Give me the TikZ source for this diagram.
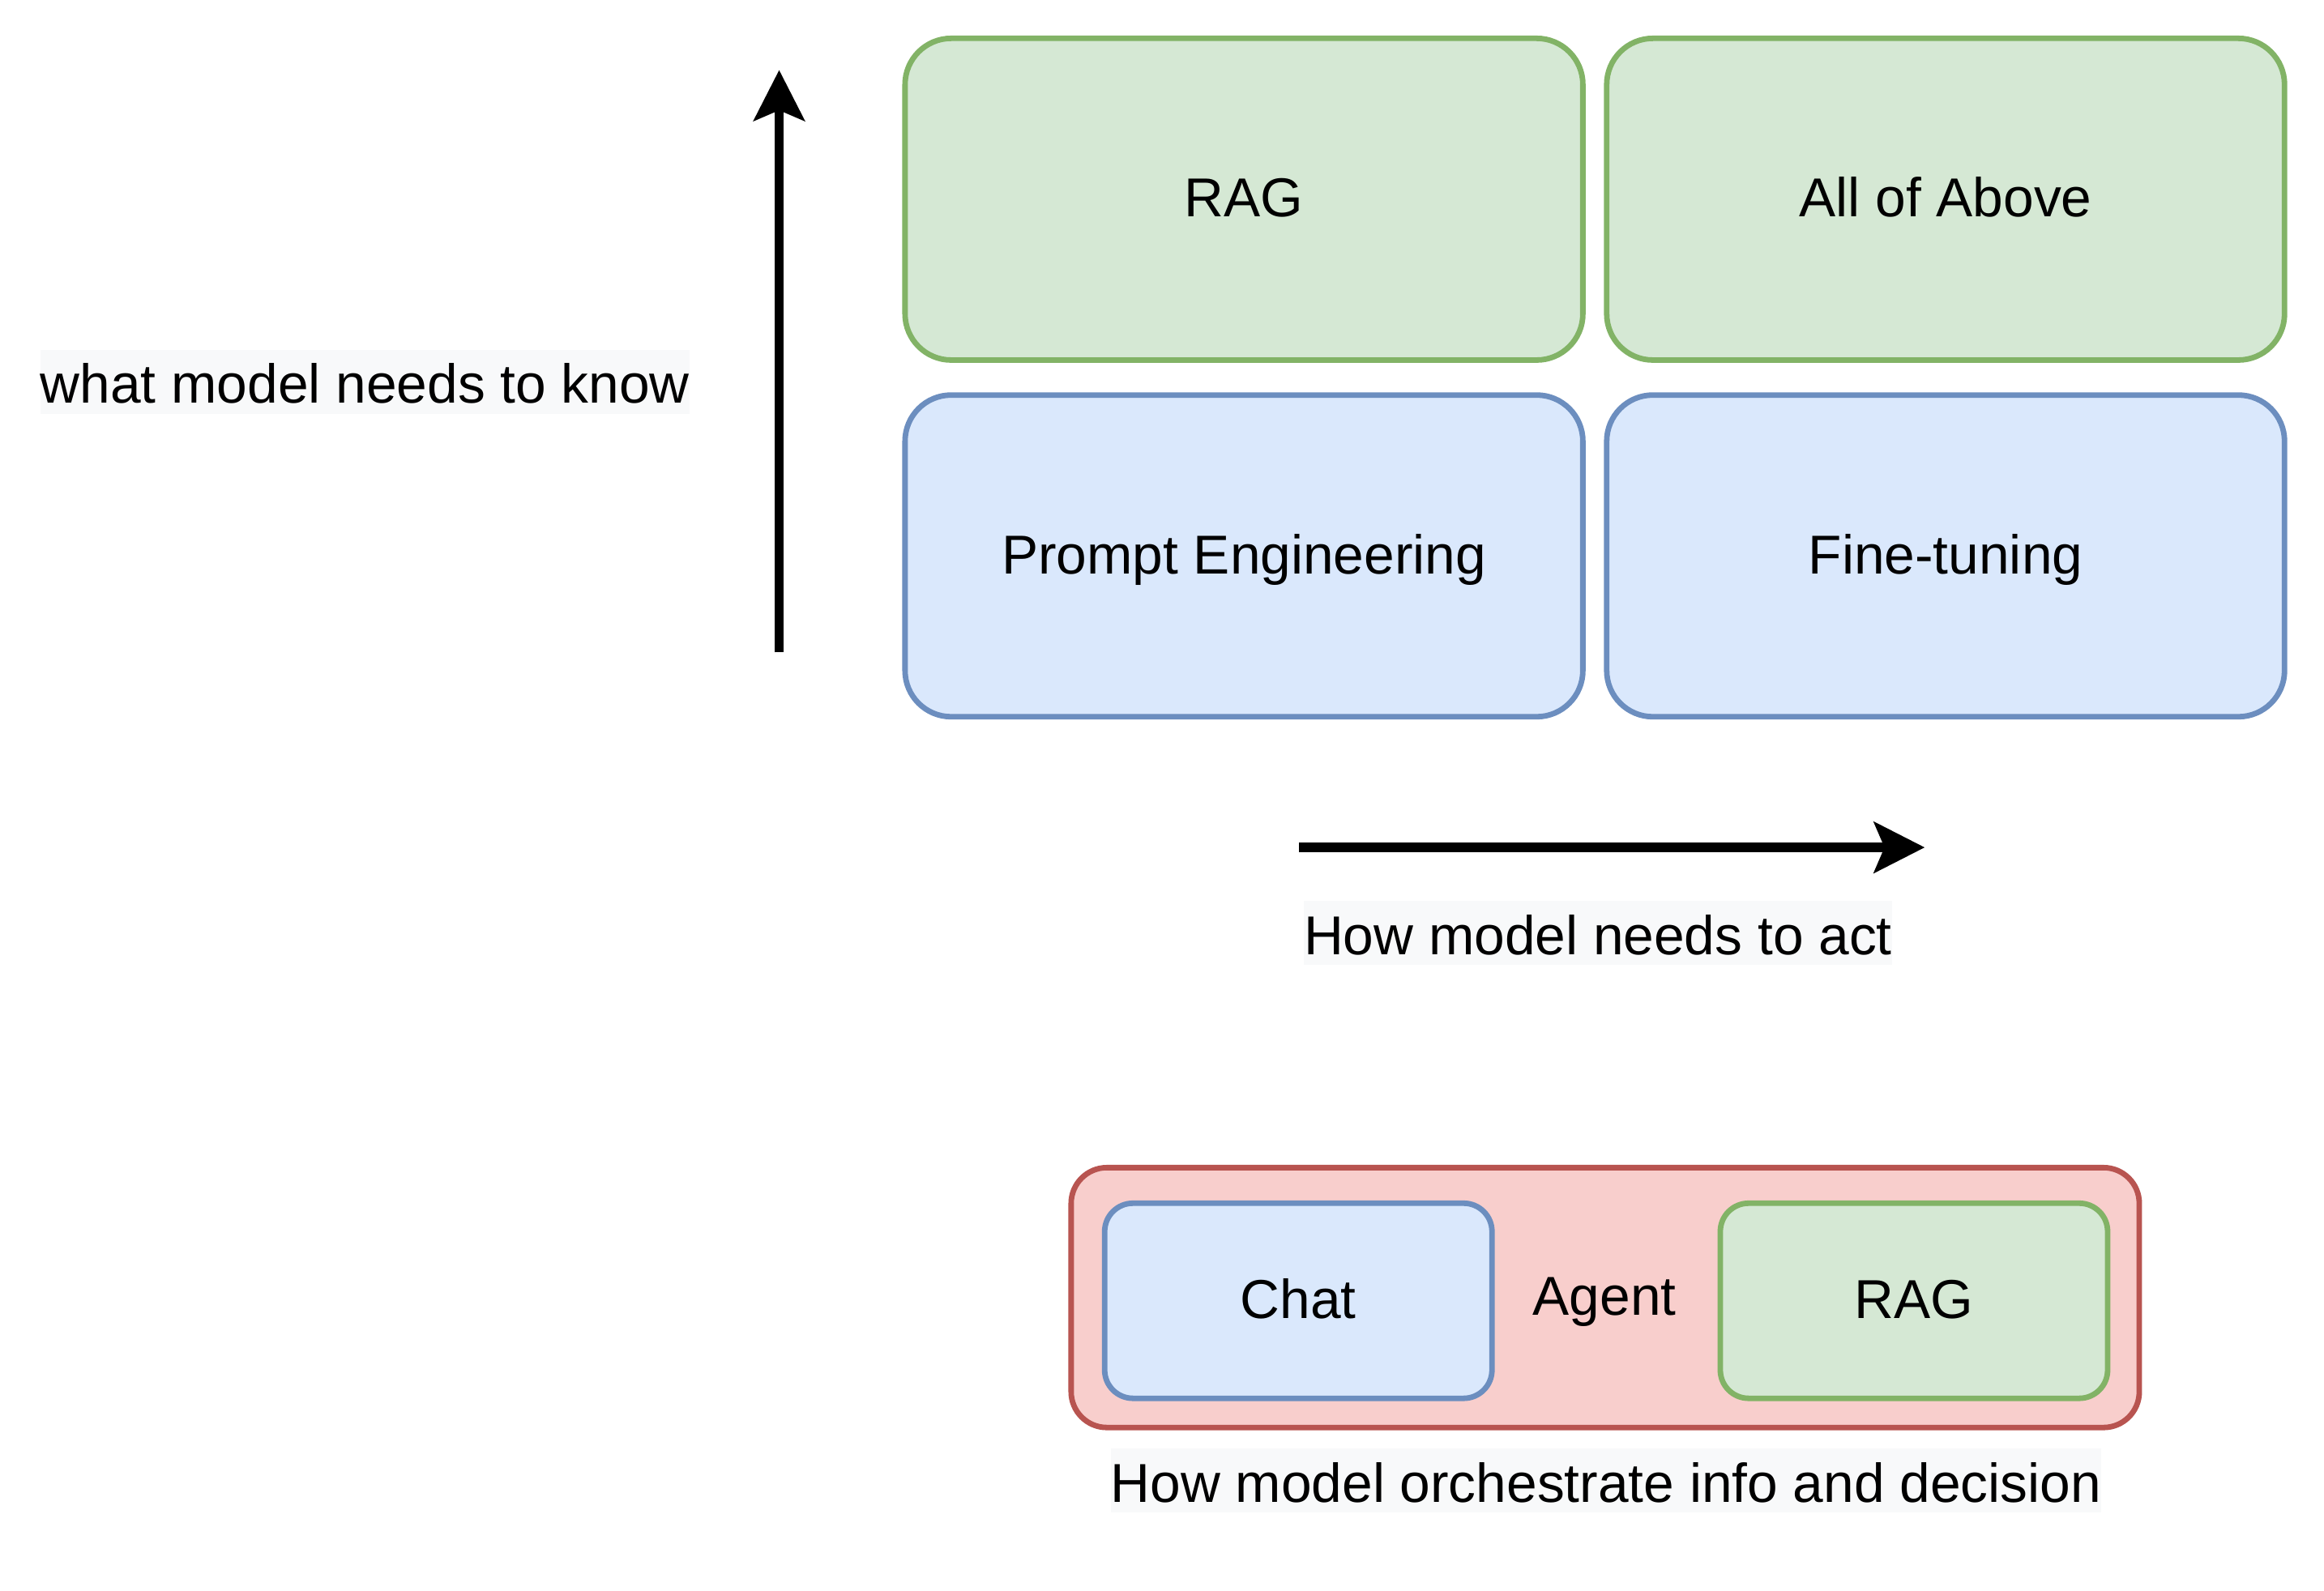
\documentclass[tikz,border=0pt]{standalone}
\usepackage{fontspec}
\setmainfont{Liberation Sans}
\usetikzlibrary{arrows.meta}
\definecolor{gfill}{HTML}{D5E8D4}
\definecolor{gline}{HTML}{82B366}
\definecolor{bfill}{HTML}{DAE8FC}
\definecolor{bline}{HTML}{6C8EBF}
\definecolor{rfill}{HTML}{F8CECC}
\definecolor{rline}{HTML}{B85450}
\definecolor{lblbg}{HTML}{F8F9FA}
\begin{document}
\begin{tikzpicture}[x=1pt,y=-1pt,
  txt/.style={font=\fontsize{36.8pt}{44pt}\selectfont, inner sep=0pt, text height=30pt, text depth=6pt},
  bigbox/.style={txt, draw, line width=3.7pt, rounded corners=31pt, minimum width=455pt, minimum height=216pt},
  greenbox/.style={fill=gfill, draw=gline},
  bluebox/.style={fill=bfill, draw=bline},
  smallbox/.style={txt, draw, line width=3.7pt, rounded corners=19pt, minimum width=260pt, minimum height=131pt},
  agentbox/.style={txt, draw=rline, fill=rfill, line width=3.7pt, rounded corners=24pt, minimum width=717pt, minimum height=174.5pt},
  axislabel/.style={font=\fontsize{36.8pt}{44pt}\selectfont, fill=lblbg, inner sep=0pt, text height=35.8pt, text depth=7.2pt},
  axisarrow/.style={line width=6.3pt, -{Stealth[length=34pt,width=34pt,inset=7pt]}}
]
\useasboundingbox (0,0) rectangle (1560,1068.28);

% quadrant boxes
\node[bigbox, greenbox] (rag) at (835,133.75) {RAG};
\node[bigbox, greenbox] (all) at (1306,133.75) {All of Above};
\node[bigbox, bluebox] (prompt) at (835,373.25) {Prompt Engineering};
\node[bigbox, bluebox] (fine) at (1306,373.25) {Fine-tuning};

% vertical axis
\coordinate (vbot) at (523,438);
\coordinate (vtop) at (523,47);
\draw[axisarrow] (vbot) -- (vtop);
\node[axislabel] (know) at (245,256.5) {what model needs to know};

% horizontal axis
\coordinate (hleft) at (872,569);
\coordinate (hright) at (1292,569);
\draw[axisarrow] (hleft) -- (hright);
\node[axislabel] (act) at (1072.6,626.5) {How model needs to act};

% agent group
\node[agentbox] (agent) at (1077.5,871.25) {};
\node[smallbox, bluebox] (chat) at (871.5,873.4) {Chat};
\node[smallbox, greenbox] (rag2) at (1284.75,873.4) {RAG};
\node[txt] (agenttxt) at (1077,871.25) {Agent};
\node[axislabel] (orch) at (1078,994.25) {How model orchestrate info and decision};
\end{tikzpicture}
\end{document}
